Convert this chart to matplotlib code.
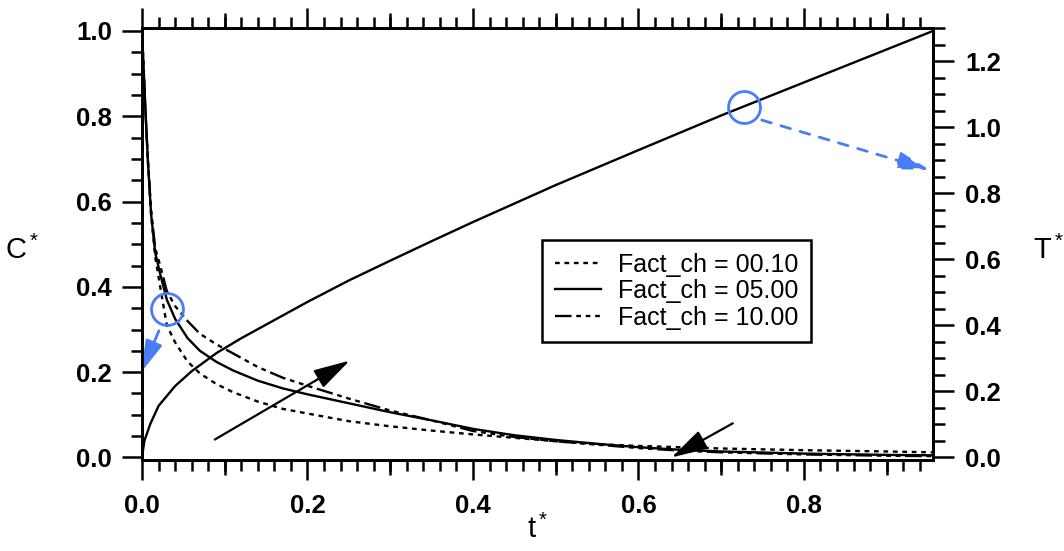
import numpy as np
import matplotlib
matplotlib.use("Agg")
import matplotlib.pyplot as plt
from matplotlib.ticker import MultipleLocator

plt.rcParams['font.family'] = ['Liberation Sans', 'DejaVu Sans']
plt.rcParams['mathtext.fontset'] = 'custom'
plt.rcParams['mathtext.rm'] = 'Liberation Sans'
plt.rcParams['mathtext.it'] = 'Liberation Sans'

BLUE = '#4a7cf5'

# dimensionless time, shared by the three concentration curves
t_c = [0, 0.002, 0.004, 0.007, 0.011, 0.016, 0.022, 0.03, 0.04, 0.055, 0.07,
       0.09, 0.11, 0.14, 0.17, 0.2, 0.25, 0.3, 0.35, 0.4, 0.45, 0.5, 0.55,
       0.6, 0.65, 0.7, 0.8, 0.9, 0.955]

# C* for each Fact_ch value
c_010 = [1.0, 0.91, 0.82, 0.70, 0.57, 0.47, 0.40, 0.31, 0.27, 0.225, 0.197,
         0.172, 0.153, 0.131, 0.114, 0.103, 0.085, 0.073, 0.063, 0.054, 0.046,
         0.038, 0.031, 0.027, 0.024, 0.021, 0.017, 0.014, 0.012]
c_500 = [1.0, 0.91, 0.82, 0.70, 0.57, 0.48, 0.43, 0.37, 0.325, 0.28, 0.25,
         0.224, 0.204, 0.18, 0.162, 0.148, 0.127, 0.106, 0.087, 0.067, 0.052,
         0.041, 0.032, 0.024, 0.018, 0.014, 0.009, 0.006, 0.005]
c_1000 = [1.0, 0.91, 0.82, 0.70, 0.58, 0.49, 0.45, 0.39, 0.355, 0.32, 0.29,
          0.265, 0.244, 0.212, 0.187, 0.168, 0.138, 0.11, 0.087, 0.062, 0.048,
          0.038, 0.03, 0.022, 0.016, 0.012, 0.007, 0.004, 0.003]

# T* (right axis)
t_T = [0, 0.003, 0.01, 0.02, 0.04, 0.06, 0.09, 0.12, 0.16, 0.2, 0.25, 0.3,
       0.35, 0.4, 0.5, 0.6, 0.7, 0.8, 0.9, 0.955]
T_vals = [0, 0.05, 0.10, 0.155, 0.215, 0.26, 0.315, 0.36, 0.415, 0.47, 0.535,
          0.595, 0.654, 0.712, 0.824, 0.93, 1.035, 1.135, 1.235, 1.29]

labels = ['Fact_ch = 00.10', 'Fact_ch = 05.00', 'Fact_ch = 10.00']

fig = plt.figure(figsize=(10.64, 5.51), dpi=100)
ax = fig.add_axes([142 / 1064, 1 - 460 / 551, 791 / 1064, 432 / 551])
ax2 = ax.twinx()

lw = 1.7
l1, = ax.plot(t_c, c_010, color='black', lw=lw, ls=(0, (2, 2)))
l2, = ax.plot(t_c, c_500, color='black', lw=lw, ls='-')
l3, = ax.plot(t_c, c_1000, color='black', lw=lw, ls=(0, (7, 2, 2, 2, 2, 2, 2, 2)))
ax2.plot(t_T, T_vals, color='black', lw=lw)

ax.set_xlim(0, 0.956)
ax.set_ylim(-0.006, 1.007)
ax2.set_ylim(-0.009, 1.30)

# ticks
tick_font = dict(fontsize=18.5, fontweight='bold')
ax.xaxis.set_major_locator(MultipleLocator(0.2))
ax.xaxis.set_minor_locator(MultipleLocator(0.02))
ax.yaxis.set_major_locator(MultipleLocator(0.2))
ax.yaxis.set_minor_locator(MultipleLocator(0.05))
ax2.yaxis.set_major_locator(MultipleLocator(0.2))
ax2.yaxis.set_minor_locator(MultipleLocator(0.05))

ax.tick_params(which='both', direction='out', top=True, width=1.8)
ax.tick_params(which='major', length=14.5, pad=10)
ax.tick_params(which='minor', length=8)
ax.tick_params(axis='y', which='major', pad=7)
ax2.tick_params(which='both', direction='out', width=1.8)
ax2.tick_params(which='major', length=15, pad=8)
ax2.tick_params(which='minor', length=8.5)

for a in (ax, ax2):
    for sp in a.spines.values():
        sp.set_linewidth(2)

ax.set_xticklabels(['%.1f' % v for v in ax.get_xticks()], **tick_font)
ax.set_yticklabels(['%.1f' % v for v in ax.get_yticks()], **tick_font)
ax2.set_yticklabels(['%.1f' % v for v in ax2.get_yticks()], **tick_font)

# medium-length ticks at odd tenths, top and bottom
for side in ('bottom', 'top'):
    sec = ax.secondary_xaxis(side)
    sec.set_xticks([0.1, 0.3, 0.5, 0.7, 0.9])
    sec.tick_params(direction='out', length=11, width=1.8,
                    labelbottom=False, labeltop=False)
    sec.spines[side].set_visible(False)

# axis labels
ax.set_xlabel('t$^*$', fontsize=21, va='center')
ax.xaxis.set_label_coords(0.5, -0.16)
ax.set_ylabel('C$^*$', fontsize=21, rotation=0, ha='center', va='center')
ax.yaxis.set_label_coords(-0.152, 0.485)
ax2.set_ylabel('T$^*$', fontsize=21, rotation=0, ha='center', va='center')
ax2.yaxis.set_label_coords(1.146, 0.485)

# legend
leg = ax.legend([l1, l2, l3], labels, loc='upper left',
                bbox_to_anchor=(542 / 1064, 1 - 240 / 551),
                bbox_transform=fig.transFigure, borderaxespad=0,
                fontsize=18, labelspacing=0.1, handlelength=1.85,
                handletextpad=0.7, borderpad=0.5, fancybox=False,
                framealpha=1, edgecolor='black')
leg.get_frame().set_linewidth(1.8)

# black trend arrows
head = '-|>,head_length=0.8,head_width=0.22'
ax.annotate('', xy=(0.251, 0.227), xytext=(0.088, 0.042),
            arrowprops=dict(arrowstyle=head, color='black', lw=1.6,
                            mutation_scale=28, shrinkA=0, shrinkB=0))
ax.annotate('', xy=(0.640, 0.0), xytext=(0.714, 0.08),
            arrowprops=dict(arrowstyle=head, color='black', lw=1.6,
                            mutation_scale=28, shrinkA=0, shrinkB=0))

# blue markers pointing each curve family to its axis
ax.plot([0.030], [0.349], 'o', ms=23, mfc='none', mec=BLUE, mew=2, zorder=5)
ax.annotate('', xy=(-0.001, 0.2), xytext=(0.0205, 0.297),
            arrowprops=dict(arrowstyle=head, color=BLUE, lw=2,
                            mutation_scale=24, shrinkA=0, shrinkB=0),
            annotation_clip=False)
ax2.plot([0.7275], [1.06], 'o', ms=23, mfc='none', mec=BLUE, mew=2, zorder=5)
ax2.annotate('', xy=(0.952, 0.870), xytext=(0.749, 1.021),
             arrowprops=dict(arrowstyle=head, color=BLUE, lw=2, ls=(0, (3.6, 3.6)),
                             mutation_scale=24, shrinkA=0, shrinkB=0))

fig.savefig('out.png', dpi=100)
